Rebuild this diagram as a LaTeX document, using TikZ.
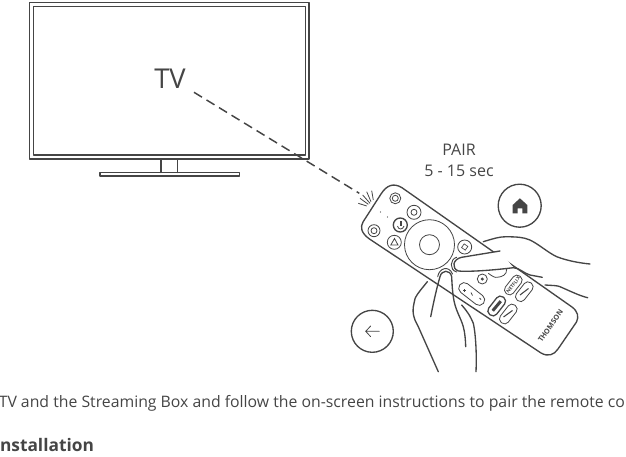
\documentclass[tikz,border=0pt]{standalone}
\usepackage{fontspec}
\setmainfont{Open Sans}
\newfontfamily\brandfont[Kerning=Off,Ligatures=NoCommon]{Open Sans}
\definecolor{ink}{HTML}{454545}
\newcommand{\myu}{*0.75pt}
\tikzset{
  pic line/.style={draw=ink,line width=1pt,line join=round,line cap=round},
  thin line/.style={draw=ink,line width=0.6pt},
  btn/.style={circle,thin line,inner sep=0pt},
  pill/.style={rounded corners=3.4pt,thin line,minimum width=22\myu,minimum height=10\myu,inner sep=0pt,rotate=52},
  caption/.style={text=ink,font=\fontsize{12}{14}\selectfont,inner sep=0pt}
}
\begin{document}
\begin{tikzpicture}[x=0.75pt,y=-0.75pt]
\useasboundingbox (0,0) rectangle (626,457);
\clip (0,0) rectangle (626,457);

% Television
\draw[pic line] (29.5,2.5) rectangle (309,159);
\draw[pic line,line width=1.3pt] (33.5,6.5) rectangle (305.5,155);
\draw[pic line] (161,159) -- (161,172.5) (177.5,159) -- (177.5,172.5);
\draw[pic line] (100,172.5) rectangle (239.5,176);
\node[text=ink,font=\fontsize{20.5}{23}\selectfont,inner sep=0pt] (tv) at (170,79) {TV};

% Infrared beam
\coordinate (beamA) at (194,92.3);
\coordinate (beamB) at (359.3,193.3);
\draw[ink,line width=1.1pt,dash pattern=on 7pt off 4pt] (beamA) -- (beamB);
\foreach \a/\b/\c/\d in {358.3/203.3/366.7/206, 360/198.3/368.3/204.3, 362.7/195/370/203.3, 366.7/191.7/371/201.7, 371.7/190.7/373.3/200}
  \draw[thin line] (\a,\b) -- (\c,\d);

% Labels beside the remote
\node[caption] (pair) at (459,150) {PAIR};
\node[caption] (secs) at (459,170.5) {5 - 15 sec};

% Remote body
\draw[pic line,fill=white]
  (401.7,187.5) -- (572,307)
  .. controls (578,311.5) and (579,317) .. (576.5,322)
  -- (558,349)
  .. controls (554,355) and (548,357) .. (541,353)
  -- (369.5,239)
  .. controls (361,233) and (360,227) .. (363,222)
  -- (381,194)
  .. controls (387,184.5) and (394,183) .. (401.7,187.5) -- cycle;

% Top buttons
\node[btn,minimum size=11\myu] (b1) at (395.3,198.3) {};
\node[btn,minimum size=6\myu] at (b1) {};
\node[btn,minimum size=14\myu] (b2) at (414,212.3) {};
\node[btn,minimum size=6\myu] at (b2) {};
\node[btn,minimum size=14\myu,pic line] (b3) at (400.3,225) {};
\fill[ink] (399.5,221) rectangle (402,226);
\draw[thin line] (397.5,226) .. controls (398,230) and (403,230) .. (404,226);
\node[btn,minimum size=14\myu] (b4) at (394.3,242.3) {};
\draw[thin line] (394.5,238.5) -- (390.8,245) -- (398,245) -- cycle;
\node[btn,minimum size=12\myu] (b5) at (374,230.7) {};
\node[btn,minimum size=6\myu] at (b5) {};
\fill[ink] (380.5,212) circle (0.6) (387.5,217) circle (0.6);

% Direction ring
\node[btn,minimum size=50\myu] (ring) at (429.5,244.7) {};
\node[btn,minimum size=20\myu] (okbtn) at (ring) {};
\node[btn,minimum size=14\myu] (b6) at (464.7,247) {};
\node[draw=ink,line width=0.5pt,minimum size=4.5\myu,inner sep=0pt,rotate=-35] at (b6) {};
\node[btn,minimum size=10\myu] (b7) at (482.3,279) {};
\fill[ink] (482.3,279) circle (1.7);

% Lower buttons
\node[thin line,rounded corners=4pt,minimum width=30\myu,minimum height=11\myu,inner sep=0pt,rotate=-38] (vol) at (471.7,294) {};
\draw[thin line] (463,290.5) -- (465.5,290.5) (464.2,289) -- (464.2,292);
\draw[thin line] (471,292.5) -- (472.5,295.5);
\draw[thin line] (479.5,298) -- (481,299.5);
\node[pill] (netflix) at (513.3,285) {};
\node[text=ink,font=\brandfont\bfseries\fontsize{3.6}{4}\selectfont,inner sep=0pt,rotate=52] at (netflix) {NETFLIX};
\node[pill] (app1) at (524.3,291.7) {};
\draw[ink,line width=0.8pt] (520,295) -- (528.5,288.5);
\node[pill,line width=0.95pt] (app2) at (496.7,306) {};
\fill[ink,rotate around={50:(496.7,306)}] (490.5,304.5) rectangle (503,307.5);
\node[pill] (app3) at (508.3,314) {};
\draw[ink,line width=0.8pt] (503.5,317) -- (512.5,310.5);
\node[text=ink,font=\brandfont\bfseries\fontsize{5.4}{6}\selectfont,inner sep=0pt,rotate=55] (brand) at (550.5,326) {THOMSON};

% Button half hidden by the thumb
\draw[thin line] (488.3,273.3) .. controls (492,276) and (495,278) .. (497,277.3)
  .. controls (502,277) and (507,275) .. (506.7,269);

% Right hand and thumb
\fill[white] (500,251) -- (461.7,257.3)
  .. controls (453,259) and (451,268) .. (458.3,271)
  .. controls (470,272) and (495,270) .. (513.3,267.7) -- cycle;
\draw[pic line] (483.3,241.7) .. controls (492,239) and (500,236.5) .. (506.7,236.7)
  .. controls (517,237) and (523,237) .. (530,240)
  .. controls (540,245) and (547,252) .. (556.7,256.7)
  .. controls (568,261) and (580,263) .. (590,264);
\draw[pic line] (500,251) -- (461.7,257.3)
  .. controls (453,259) and (451,268) .. (458.3,271)
  .. controls (470,272) and (495,270) .. (513.3,267.7)
  .. controls (520,268) and (523,273) .. (530,275)
  -- (542.3,277.3);
\draw[pic line] (545,285) .. controls (552,285.5) and (558,285.5) .. (560,286.7)
  .. controls (570,291) and (580,296) .. (587.7,297.7);
\draw[pic line,line width=0.7pt] (456.7,257.3) .. controls (450,259) and (449,270) .. (456.7,272);

% Left hand and forefinger
\fill[white] (427.3,281.7) .. controls (420,291) and (412,300) .. (414,303.3)
  .. controls (411,315) and (416,322) .. (418.3,326.7)
  -- (438.3,371.7) -- (476,371.7)
  .. controls (477,350) and (475,330) .. (473.3,323.3)
  .. controls (470,315) and (466,310) .. (461.7,305)
  -- (454,296.7) -- cycle;
\draw[pic line] (430.7,316.7) .. controls (434,300) and (437,287) .. (440,276.7)
  .. controls (441.5,270) and (450,269) .. (451.7,276.7)
  .. controls (452,285) and (452.5,291) .. (453.3,296.7)
  .. controls (455,310) and (461,318) .. (463.3,326.7)
  .. controls (465,333) and (465.5,340) .. (465.7,346.7);
\draw[pic line] (427.3,281.7) .. controls (420,291) and (414,297) .. (414,303.3)
  .. controls (411,315) and (416,322) .. (418.3,326.7)
  -- (438.3,371.7);
\draw[pic line] (461.7,305) .. controls (466,310) and (470,315) .. (473.3,323.3)
  .. controls (475,330) and (477,350) .. (476,371.7);
\draw[pic line,line width=0.7pt] (437.7,276.7) .. controls (439,268) and (449,265) .. (452.5,274);

% Icon badges
\node[circle,pic line,minimum size=43\myu,inner sep=0pt] (home) at (519.7,205.7) {};
\fill[ink] (519.9,198.3) -- (527.3,205) -- (527.3,213.3) -- (522.3,213.3) -- (522.3,208.3)
  -- (517.7,208.3) -- (517.7,213.3) -- (512.7,213.3) -- (512.7,205) -- cycle;
\node[circle,pic line,minimum size=42\myu,inner sep=0pt] (back) at (372.3,331.3) {};
\draw[thin line,line cap=round] (379.3,331.3) -- (365.7,331.3) (370.7,326) -- (365.7,331.3) -- (370.7,336.7);

% Running text
\node[anchor=base west,text=ink,font=\fontsize{11.85}{13}\selectfont,inner sep=0pt] (para) at (-1.5,407)
  {TV and the Streaming Box and follow the on-screen instructions to pair the remote control};
\node[anchor=base west,text=ink,font=\bfseries\fontsize{13}{15}\selectfont,inner sep=0pt] (head) at (-6,451)
  {Installation};
\end{tikzpicture}
\end{document}
